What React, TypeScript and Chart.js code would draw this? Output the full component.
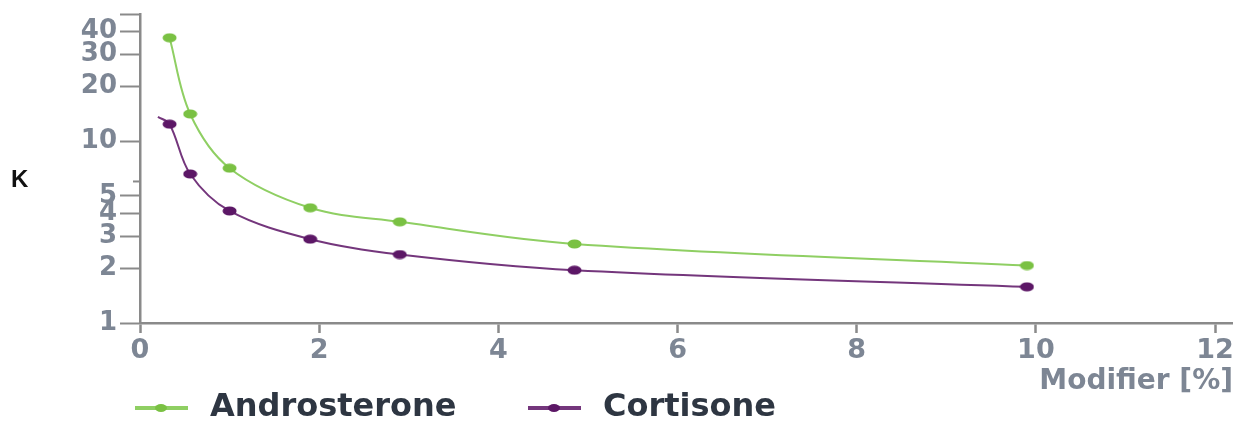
import React, { useEffect, useRef } from "react";
import { Chart, registerables } from "chart.js";

Chart.register(...registerables);

// ---- data ----
const modifierPct = [0.33, 0.56, 1.0, 1.9, 2.9, 4.85, 9.9];
const androsteroneK = [37, 14.1, 7.1, 4.3, 3.6, 2.72, 2.07];
const cortisoneK = [12.4, 6.6, 4.13, 2.89, 2.38, 1.95, 1.58];
const cortisoneCurveStartX = 0.2;
const cortisoneCurveStartK = 13.6;
const seriesNames = ["Androsterone", "Cortisone"];
const xTicks = [0, 2, 4, 6, 8, 10, 12];
const yTicks = [1, 2, 3, 4, 5, 6, 10, 20, 30, 40, 50];
const yTickLabels = ["1", "2", "3", "4", "5", "", "10", "20", "30", "40", ""];
const xTitle = "Modifier [%]";
const yTitle = "K";

const GREEN_LINE = "#8fcf63";
const GREEN_DOT = "#7ac143";
const PURPLE_LINE = "#74367c";
const PURPLE_DOT = "#5c1766";
const AXIS = "#8a8a8a";
const LABEL = "#7d8694";
const FONT = '"DejaVu Sans", sans-serif';

function ellipse(color: string, w: number, h: number): HTMLCanvasElement {
  const c = document.createElement("canvas");
  c.width = w;
  c.height = h;
  const g = c.getContext("2d")!;
  g.fillStyle = color;
  g.beginPath();
  g.ellipse(w / 2, h / 2, w / 2 - 0.5, h / 2 - 0.5, 0, 0, Math.PI * 2);
  g.fill();
  return c;
}

export default function App() {
  const ref = useRef<HTMLCanvasElement>(null);

  useEffect(() => {
    const canvas = ref.current!;
    const greenDot = ellipse(GREEN_DOT, 15, 10);
    const purpleDot = ellipse(PURPLE_DOT, 15, 10);

    const andData = modifierPct.map((x, i) => ({ x, y: androsteroneK[i] }));
    const corData = [
      { x: cortisoneCurveStartX, y: cortisoneCurveStartK },
      ...modifierPct.map((x, i) => ({ x, y: cortisoneK[i] })),
    ];

    const extras = {
      id: "extras",
      afterDraw(chart: any) {
        const ctx = chart.ctx as CanvasRenderingContext2D;
        const ys = chart.scales.y;
        const area = chart.chartArea;
        ctx.save();
        // short unlabeled minor tick at 6
        const p6 = ys.getPixelForValue(6);
        ctx.strokeStyle = AXIS;
        ctx.lineWidth = 2;
        ctx.beginPath();
        ctx.moveTo(area.left - 7, p6);
        ctx.lineTo(area.left, p6);
        ctx.stroke();
        // y title
        ctx.fillStyle = "#111";
        ctx.font = 'bold 24px "Liberation Sans", Arial, sans-serif';
        ctx.textAlign = "left";
        ctx.textBaseline = "middle";
        ctx.fillText(yTitle, 11, 180);
        // legend
        const anchors = [135, 528];
        const legendY = 408;
        chart.data.datasets.forEach((ds: any, i: number) => {
          const x0 = anchors[i];
          ctx.strokeStyle = ds.borderColor;
          ctx.lineWidth = 4;
          ctx.beginPath();
          ctx.moveTo(x0, legendY);
          ctx.lineTo(x0 + 53, legendY);
          ctx.stroke();
          ctx.fillStyle = i === 0 ? GREEN_DOT : PURPLE_DOT;
          ctx.beginPath();
          ctx.ellipse(x0 + 26, legendY, 6, 4, 0, 0, Math.PI * 2);
          ctx.fill();
          ctx.fillStyle = "#2e3642";
          ctx.font = `bold 32px ${FONT}`;
          ctx.textAlign = "left";
          ctx.textBaseline = "middle";
          ctx.fillText(ds.label, x0 + 75, legendY);
        });
        ctx.restore();
      },
    };

    const chart = new Chart(canvas, {
      type: "line",
      data: {
        datasets: [
          {
            label: seriesNames[0],
            data: andData,
            borderColor: GREEN_LINE,
            borderWidth: 2,
            pointStyle: greenDot as any,
            pointRadius: 5,
            tension: 0.35,
          },
          {
            label: seriesNames[1],
            data: corData,
            borderColor: PURPLE_LINE,
            borderWidth: 2,
            pointStyle: purpleDot as any,
            pointRadius: (c: any) => (c.dataIndex === 0 ? 0 : 5),
            tension: 0.35,
          },
        ],
      },
      options: {
        responsive: false,
        animation: false,
        events: [],
        layout: { autoPadding: false, padding: { left: 0, right: 0, top: 14, bottom: 25 } },
        plugins: { legend: { display: false }, tooltip: { enabled: false } },
        scales: {
          x: {
            type: "linear",
            min: 0,
            max: 12.2,
            afterBuildTicks: (s: any) => {
              s.ticks = xTicks.map((v) => ({ value: v }));
            },
            afterFit: (s: any) => {
              s.paddingLeft = 0;
              s.paddingRight = 0;
            },
            border: { color: AXIS, width: 2.5 },
            grid: {
              drawOnChartArea: false,
              drawTicks: true,
              tickLength: 10,
              tickColor: AXIS,
              tickWidth: 2.5,
            },
            ticks: {
              color: LABEL,
              padding: 4,
              font: { family: FONT, size: 27, weight: "bold", lineHeight: 1 },
              callback: (v: any) => String(v),
            },
            title: {
              display: true,
              text: xTitle,
              align: "end",
              color: LABEL,
              padding: { top: 0, bottom: 0 },
              font: { family: FONT, size: 28, weight: "bold", lineHeight: 1 },
            },
          },
          y: {
            type: "logarithmic",
            min: 1,
            max: 50,
            afterBuildTicks: (s: any) => {
              s.ticks = yTicks.map((v) => ({ value: v }));
            },
            afterFit: (s: any) => {
              s.width = 140;
              s.paddingTop = 0;
              s.paddingBottom = 0;
            },
            border: { color: AXIS, width: 2.5 },
            grid: {
              drawOnChartArea: false,
              drawTicks: true,
              tickLength: 20,
              tickColor: (c: any) => (c.tick && c.tick.value === 6 ? "rgba(0,0,0,0)" : AXIS),
              tickWidth: 2,
            },
            ticks: {
              color: LABEL,
              padding: 3,
              autoSkip: false,
              font: { family: FONT, size: 26, weight: "bold", lineHeight: 1 },
              callback: (v: any) => {
                const i = yTicks.indexOf(Number(v));
                return i >= 0 ? yTickLabels[i] : "";
              },
            },
          },
        },
      },
      plugins: [extras],
    });
    return () => chart.destroy();
  }, []);

  return (
    <div style={{ position: "fixed", left: 0, top: 0, width: 1233, height: 421, background: "#fff" }}>
      <canvas ref={ref} width={1233} height={421} style={{ display: "block" }} />
    </div>
  );
}
